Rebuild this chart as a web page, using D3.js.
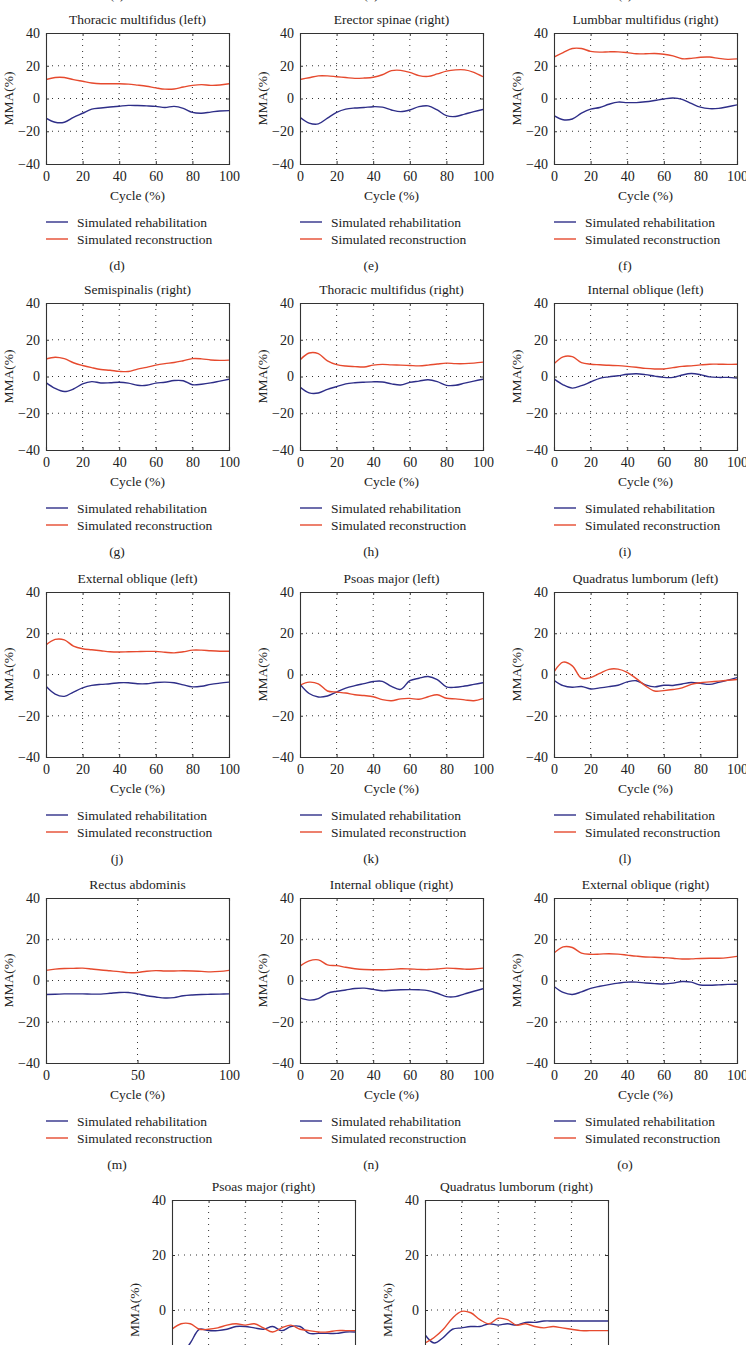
<!DOCTYPE html>
<html>
<head>
<meta charset="utf-8">
<script src="https://cdn.jsdelivr.net/npm/d3@7/dist/d3.min.js"></script>
<style>
  body { margin: 0; background: #fff; }
  svg text { font-family: "Liberation Serif", "DejaVu Serif", serif; fill: #222; }
</style>
</head>
<body>
<svg id="chart" width="746" height="1345"></svg>
<script>
// x positions of the samples (cycle %)
const cycle = [0, 5, 10, 15, 20, 25, 30, 35, 40, 45, 50, 55, 60, 65, 70, 75, 80, 85, 90, 95, 100];

const seriesNames = ['Simulated rehabilitation', 'Simulated reconstruction'];
const yTicks = [-40, -20, 0, 20, 40];
const xTicks = [0, 20, 40, 60, 80, 100];
const xTicksHalf = [0, 50, 100];

const titles = ['Thoracic multifidus (left)', 'Erector spinae (right)', 'Lumbbar multifidus (right)',
  'Semispinalis (right)', 'Thoracic multifidus (right)', 'Internal oblique (left)',
  'External oblique (left)', 'Psoas major (left)', 'Quadratus lumborum (left)',
  'Rectus abdominis', 'Internal oblique (right)', 'External oblique (right)',
  'Psoas major (right)', 'Quadratus lumborum (right)'];
const letters = ['(d)', '(e)', '(f)', '(g)', '(h)', '(i)', '(j)', '(k)', '(l)', '(m)', '(n)', '(o)', null, null];
const topLetters = ['(a)', '(b)', '(c)'];

// values, read at every 5 % of the cycle
const thorMultLeftRehab  = [-12, -14.5, -14.5, -11.5, -9, -6.5, -5.8, -5.2, -4.7, -4.2, -4.3, -4.5, -4.8, -5.5, -4.8, -6, -8.5, -9, -8.3, -7.6, -7.4];
const thorMultLeftRecon  = [11.6, 12.8, 12.8, 11.5, 10.5, 9.5, 9, 9, 9, 8.8, 8.2, 7.5, 6.5, 5.7, 5.8, 7, 8, 8.5, 8, 8.2, 9];
const erectorRightRehab  = [-11.5, -15, -15.5, -12, -8.5, -6.5, -5.8, -5.5, -5, -5.3, -7, -8, -7, -5, -4.5, -7, -10.5, -11, -9.5, -8, -6.7];
const erectorRightRecon  = [11.6, 12.7, 13.8, 13.8, 13.3, 12.8, 12.3, 12.5, 13, 14.5, 17, 17.2, 16, 14, 13.5, 15, 16.7, 17.5, 17.5, 16, 13.3];
const lumbMultRightRehab = [-10.5, -13, -12.5, -9, -6.5, -5.5, -3.5, -2.2, -2.5, -2.5, -2, -1.2, -0.3, 0.3, -0.5, -3, -5.3, -6.2, -6, -5, -3.9];
const lumbMultRightRecon = [25.3, 28, 30.5, 30.5, 28.8, 28.3, 28.5, 28.5, 28, 27.3, 27.3, 27.5, 27, 26, 24.3, 24.5, 25.2, 25.3, 24.5, 23.9, 24.2];
const semispRightRehab   = [-3.3, -6.5, -8.2, -6.8, -4, -2.8, -3.5, -3.4, -3.1, -3.6, -4.8, -4.8, -3.6, -3.1, -2.2, -2.3, -4.5, -4.2, -3.5, -2.5, -1.5];
const semispRightRecon   = [9.5, 10.5, 9.7, 7.5, 6, 4.8, 3.8, 3.4, 2.8, 2.7, 4, 5, 6.2, 7, 7.6, 8.6, 9.7, 9.6, 9, 8.8, 8.9];
const thorMultRightRehab = [-5.8, -8.9, -9, -7, -5.5, -4, -3.4, -3.1, -2.9, -3, -4, -4.6, -3.2, -2.5, -1.8, -2.8, -4.8, -4.8, -3.6, -2.5, -1.5];
const thorMultRightRecon = [9, 12.8, 12.5, 8.5, 6.5, 5.7, 5.4, 5.2, 6.2, 6.6, 6.3, 6.2, 6, 5.8, 6.2, 6.8, 7.3, 7, 7, 7.3, 7.8];
const intOblLeftRehab    = [-1.3, -4.5, -6.3, -5, -3, -1, -0.2, 0.4, 1.2, 1.5, 1, 0.2, -0.5, -0.5, 0.8, 1.6, 1, -0.2, -0.5, -0.5, -0.9];
const intOblLeftRecon    = [6.9, 10.7, 10.8, 7.6, 6.7, 6.4, 6.1, 5.9, 5.5, 5, 4.4, 4.1, 4.1, 4.8, 5.5, 5.8, 6.3, 6.7, 6.7, 6.6, 6.7];
const extOblLeftRehab    = [-5.7, -9.5, -10.6, -8.5, -6.5, -5.3, -4.8, -4.5, -4, -4, -4.5, -4.5, -3.9, -3.7, -4, -5, -6, -5.7, -4.8, -4.2, -3.7];
const extOblLeftRecon    = [14.3, 17, 16.8, 13.8, 12.5, 12, 11.5, 11, 10.9, 11, 11.1, 11.2, 11.2, 10.8, 10.5, 11, 11.8, 11.8, 11.5, 11.3, 11.3];
const psoasLeftRehab     = [-4.7, -9.2, -10.9, -10.4, -8.5, -6.6, -5.4, -4.4, -3.4, -3.3, -5.8, -7.2, -3, -1.8, -1, -2.5, -6, -6.2, -5.6, -4.8, -4];
const psoasLeftRecon     = [-5.2, -3.7, -4.5, -8, -8.5, -9, -9.8, -10.2, -10.8, -12.2, -12.7, -11.8, -11.6, -12, -10.8, -9.8, -11.5, -11.8, -12.3, -12.7, -11.7];
const quadLumbLeftRehab  = [-2.8, -5.4, -6.2, -5.8, -7, -6.5, -5.9, -5.2, -3.6, -3, -5, -6, -5.2, -5.3, -4.6, -3.9, -4.3, -4.8, -3.8, -2.7, -1.5];
const quadLumbLeftRecon  = [1.3, 6, 4.2, -1.8, -1.5, 0.5, 2.5, 2.6, 1, -2, -5.5, -8, -7.8, -7.3, -6.5, -4.8, -4, -3.6, -3.2, -2.8, -2.4];
const rectusRehab        = [-6.8, -6.7, -6.5, -6.5, -6.5, -6.6, -6.6, -6.2, -5.8, -5.8, -6.5, -7.4, -8, -8.5, -8.3, -7.4, -7, -6.8, -6.7, -6.6, -6.5];
const rectusRecon        = [4.9, 5.5, 5.8, 5.9, 6, 5.6, 5.1, 4.7, 4.3, 3.8, 3.9, 4.5, 4.8, 4.6, 4.6, 4.7, 4.6, 4.4, 4.2, 4.4, 4.9];
const intOblRightRehab   = [-8.4, -9.5, -8.8, -6.2, -5.2, -4.6, -3.9, -3.7, -4.3, -5, -4.7, -4.5, -4.4, -4.5, -4.9, -6.2, -7.8, -7.8, -6.5, -5.2, -4];
const intOblRightRecon   = [7, 9.5, 10, 7.6, 7.2, 6.4, 5.7, 5.3, 5.2, 5.2, 5.4, 5.7, 5.6, 5.4, 5.3, 5.6, 6, 5.8, 5.5, 5.6, 6];
const extOblRightRehab   = [-2.9, -5.8, -6.8, -5.5, -3.8, -2.8, -2, -1.3, -0.8, -0.8, -1.2, -1.5, -1.7, -1.3, -0.5, -0.8, -2.2, -2.3, -2.1, -1.9, -1.8];
const extOblRightRecon   = [13.3, 16.3, 16, 13.3, 12.7, 12.8, 13, 12.8, 12.3, 11.8, 11.4, 11.3, 11.1, 10.8, 10.4, 10.5, 10.7, 10.8, 10.8, 11.1, 11.7];
const psoasRightRehab    = [-14, -16, -12, -7, -7.5, -7.5, -7, -6, -6, -6.5, -7, -6, -7.5, -6, -6, -8.5, -8.5, -8.5, -8.5, -8, -8];
const psoasRightRecon    = [-7, -5, -5, -7, -7, -6.5, -5.5, -5, -5.5, -5, -6.5, -8, -6.5, -5.5, -7, -7.5, -8, -8, -7.5, -7.5, -7.5];
const quadLumbRightRehab = [-9, -12, -10, -7, -6.5, -6, -6, -5, -5.5, -5, -5.5, -4.5, -4.5, -4, -4, -4, -4, -4, -4, -4, -4];
const quadLumbRightRecon = [-12, -10, -7, -3, -0.5, -1, -3.5, -5, -3, -3.5, -5.5, -5, -6, -6.5, -6, -6.5, -7, -7.5, -7.5, -7.5, -7.5];

const rehabSeries = [thorMultLeftRehab, erectorRightRehab, lumbMultRightRehab, semispRightRehab, thorMultRightRehab,
  intOblLeftRehab, extOblLeftRehab, psoasLeftRehab, quadLumbLeftRehab, rectusRehab, intOblRightRehab,
  extOblRightRehab, psoasRightRehab, quadLumbRightRehab];
const reconSeries = [thorMultLeftRecon, erectorRightRecon, lumbMultRightRecon, semispRightRecon, thorMultRightRecon,
  intOblLeftRecon, extOblLeftRecon, psoasLeftRecon, quadLumbLeftRecon, rectusRecon, intOblRightRecon,
  extOblRightRecon, psoasRightRecon, quadLumbRightRecon];

// layout
const plotW = 183;
const colLeft = [46, 300, 554];
const rowTop = [33, 303, 592, 898, 1200];
const rowH = [131, 147, 165, 165, 220];
const lastRowLeft = [172, 425];
const colors = ['#2e2e88', '#e64a2e'];

const svg = d3.select('#chart');

const line = (x, y) => d3.line()
  .x((d, i) => x(cycle[i]))
  .y(d => y(d))
  .curve(d3.curveCatmullRom);

// bottoms of the labels of the panels above (cut by the page edge)
topLetters.forEach((t, i) => {
  svg.append('text').attr('x', colLeft[i] + 71).attr('y', -1)
    .attr('text-anchor', 'middle').style('font-size', '13px').text(t);
});

titles.forEach((title, k) => {
  const row = Math.floor(k / 3);
  const left = row < 4 ? colLeft[k % 3] : lastRowLeft[k - 12];
  const top = rowTop[row], h = rowH[row];
  const bottom = top + h;
  const g = svg.append('g');

  const x = d3.scaleLinear().domain([0, 100]).range([left, left + plotW]);
  const y = d3.scaleLinear().domain([-40, 40]).range([bottom, top]);
  const xt = k === 9 ? xTicksHalf : xTicks;

  g.append('clipPath').attr('id', 'clip' + k)
    .append('rect').attr('x', left).attr('y', top).attr('width', plotW).attr('height', h);

  // dotted grid
  g.selectAll('.vg').data(xt.slice(1, -1)).enter().append('line')
    .attr('x1', d => x(d)).attr('x2', d => x(d)).attr('y1', top).attr('y2', bottom)
    .attr('stroke', '#333').attr('stroke-width', 1).attr('stroke-dasharray', '1,5');
  g.selectAll('.hg').data(yTicks.slice(1, -1)).enter().append('line')
    .attr('x1', left).attr('x2', left + plotW).attr('y1', d => y(d)).attr('y2', d => y(d))
    .attr('stroke', '#333').attr('stroke-width', 1).attr('stroke-dasharray', '1,5');

  // series
  [rehabSeries[k], reconSeries[k]].forEach((vals, s) => {
    g.append('path').datum(vals)
      .attr('clip-path', 'url(#clip' + k + ')')
      .attr('fill', 'none').attr('stroke', colors[s]).attr('stroke-width', 1.4)
      .attr('d', line(x, y));
  });

  // axes (inward ticks, box)
  g.append('g').attr('transform', `translate(0,${bottom})`)
    .call(d3.axisBottom(x).tickValues(xt).tickSize(-3).tickPadding(7).tickFormat(d3.format('d')));
  g.append('g').attr('transform', `translate(${left},0)`)
    .call(d3.axisLeft(y).tickValues(yTicks).tickSize(-3).tickPadding(6).tickFormat(d => d < 0 ? '\u2212' + Math.abs(d) : d));
  g.append('g').attr('transform', `translate(0,${top})`)
    .call(d3.axisTop(x).tickValues(xt).tickSize(-3).tickFormat(''));
  g.append('g').attr('transform', `translate(${left + plotW},0)`)
    .call(d3.axisRight(y).tickValues(yTicks).tickSize(-3).tickFormat(''));
  g.selectAll('.domain').attr('stroke', '#333').attr('stroke-width', 1.1);
  g.selectAll('.tick line').attr('stroke', '#333');
  g.selectAll('.tick text').style('font-size', '14px').attr('fill', '#222')
    .style('font-family', '"Liberation Serif", serif');

  // labels
  g.append('text').attr('x', left + plotW / 2).attr('y', top - 14).attr('dy', '0.35em')
    .attr('text-anchor', 'middle').style('font-size', '13.5px').text(title);
  g.append('text').attr('transform', `translate(${left - 38},${(top + bottom) / 2}) rotate(-90)`)
    .attr('dy', '0.35em').attr('text-anchor', 'middle').style('font-size', '13.5px').text('MMA(%)');
  g.append('text').attr('x', left + plotW / 2).attr('y', bottom + 31).attr('dy', '0.35em')
    .attr('text-anchor', 'middle').style('font-size', '13.5px').text('Cycle (%)');

  seriesNames.forEach((name, s) => {
    const ly = bottom + 58 + s * 17;
    g.append('line').attr('x1', left).attr('x2', left + 22).attr('y1', ly).attr('y2', ly)
      .attr('stroke', colors[s]).attr('stroke-width', 1.4);
    g.append('text').attr('x', left + 31).attr('y', ly).attr('dy', '0.35em')
      .style('font-size', '13.5px').text(name);
  });

  if (letters[k]) {
    g.append('text').attr('x', left + 71).attr('y', bottom + 101).attr('dy', '0.35em')
      .attr('text-anchor', 'middle').style('font-size', '13.5px').text(letters[k]);
  }
});
</script>
</body>
</html>
